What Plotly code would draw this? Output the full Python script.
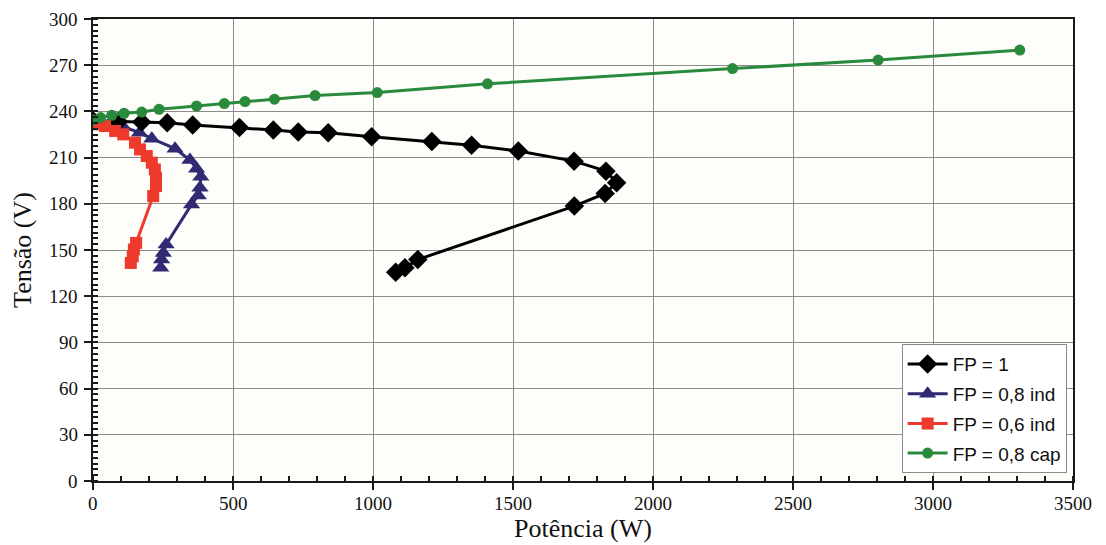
import plotly.graph_objects as go

# ---- data ----
fp1_w = [0, 90, 174, 265, 356, 523, 644, 733, 840, 995, 1210, 1352, 1519, 1718, 1832, 1870, 1829, 1719, 1160, 1114, 1081]
fp1_v = [234, 233.4, 233.1, 232.7, 231.2, 229.5, 227.9, 226.6, 226.2, 223.6, 220.4, 218.0, 214.3, 207.7, 201.2, 193.7, 186.7, 178.5, 143.8, 138.4, 135.5]

ind08_w = [0, 60, 108, 166, 210, 293, 346, 370, 385, 382, 376, 352, 261, 251, 245, 242]
ind08_v = [233.5, 232.2, 230.0, 226.2, 222.3, 215.8, 208.4, 202.8, 197.6, 190.4, 185.4, 179.6, 153.5, 148.1, 143.8, 138.4]

ind06_w = [0, 10, 43, 79, 108, 150, 168, 192, 210, 221, 225, 225, 215, 154, 146, 142, 135]
ind06_v = [233, 231.6, 230.5, 227.3, 225.1, 219.7, 215.3, 211.0, 206.7, 202.3, 196.9, 191.5, 185.0, 154.6, 150.3, 145.9, 141.6]

cap08_w = [0, 27, 67, 111, 174, 236, 370, 469, 543, 648, 793, 1015, 1409, 2284, 2804, 3310]
cap08_v = [234.4, 236.0, 237.5, 238.8, 239.6, 241.4, 243.5, 245.1, 246.4, 247.9, 250.3, 252.2, 257.9, 267.8, 273.3, 279.8]

x_ticks = [0, 500, 1000, 1500, 2000, 2500, 3000, 3500]
y_ticks = [0, 30, 60, 90, 120, 150, 180, 210, 240, 270, 300]
x_tick_labels = [str(v) for v in x_ticks]
y_tick_labels = [str(v) for v in y_ticks]

SERIF = "Liberation Serif"
SANS = "Liberation Sans"

fig = go.Figure()

fig.add_trace(go.Scatter(
    x=ind08_w, y=ind08_v, mode="lines+markers", name="FP = 0,8 ind",
    line=dict(color="#2f2a72", width=3),
    marker=dict(symbol="triangle-up", size=15, color="#2f2a72"),
    legendrank=2, legendgroup="b"))
fig.add_trace(go.Scatter(
    x=fp1_w, y=fp1_v, mode="lines+markers", name="FP = 1",
    line=dict(color="#000000", width=3),
    marker=dict(symbol="diamond", size=15, color="#000000"),
    legendrank=1, legendgroup="a"))
fig.add_trace(go.Scatter(
    x=ind06_w, y=ind06_v, mode="lines+markers", name="FP = 0,6 ind",
    line=dict(color="#ee3a2c", width=3),
    marker=dict(symbol="square", size=12, color="#ee3a2c"),
    legendrank=3, legendgroup="c"))
fig.add_trace(go.Scatter(
    x=cap08_w, y=cap08_v, mode="lines+markers", name="FP = 0,8 cap",
    line=dict(color="#2a8a3c", width=3),
    marker=dict(symbol="circle", size=11, color="#2a8a3c"),
    legendrank=4, legendgroup="d"))

# tick labels as real text annotations (serif, like the reference)
annotations = []
for v, t in zip(x_ticks, x_tick_labels):
    annotations.append(dict(x=v, xref="x", y=0, yref="paper", text=t, showarrow=False,
                            xanchor="center", yanchor="top", yshift=-10,
                            font=dict(family=SERIF, size=19, color="#111111")))
for v, t in zip(y_ticks, y_tick_labels):
    annotations.append(dict(x=0, xref="paper", y=v, yref="y", text=t, showarrow=False,
                            xanchor="right", yanchor="middle", xshift=-13,
                            font=dict(family=SERIF, size=19, color="#111111")))

fig.update_layout(
    width=1106, height=545,
    margin=dict(l=93, r=33, t=19, b=64),
    paper_bgcolor="#ffffff", plot_bgcolor="#fdfdfa",
    font=dict(family=SERIF, size=19, color="#111111"),
    showlegend=True,
    annotations=annotations,
    xaxis=dict(
        range=[0, 3500], tickmode="array", tickvals=x_ticks, showticklabels=False,
        title=dict(text="Potência (W)", font=dict(family=SERIF, size=26, color="#111111"), standoff=30),
        showline=True, linecolor="#1a1a1a", linewidth=2, mirror=True,
        showgrid=True, gridcolor="#8c8c8c", gridwidth=1, zeroline=False,
        ticks="outside", ticklen=7, tickcolor="#1a1a1a", tickwidth=1.5, automargin=False,
        minor=dict(dtick=100, tick0=0, ticks="inside", ticklen=5, tickcolor="#1a1a1a", showgrid=False),
    ),
    yaxis=dict(
        range=[0, 300], tickmode="array", tickvals=y_ticks, showticklabels=False,
        title=dict(text="Tensão (V)", font=dict(family=SERIF, size=26, color="#111111"), standoff=45),
        showline=True, linecolor="#1a1a1a", linewidth=2, mirror=True,
        showgrid=True, gridcolor="#8c8c8c", gridwidth=1, zeroline=False,
        ticks="outside", ticklen=7, tickcolor="#1a1a1a", tickwidth=1.5, automargin=False,
        minor=dict(dtick=3.75, tick0=0, ticks="inside", ticklen=5, tickcolor="#1a1a1a", showgrid=False),
    ),
    legend=dict(
        x=0.9935, y=0.017, xanchor="right", yanchor="bottom",
        bgcolor="#ffffff", bordercolor="#8a8a8a", borderwidth=1,
        font=dict(family=SANS, size=19, color="#111111"),
        tracegroupgap=2, itemwidth=40,
    ),
)

fig.write_html("out.html")
